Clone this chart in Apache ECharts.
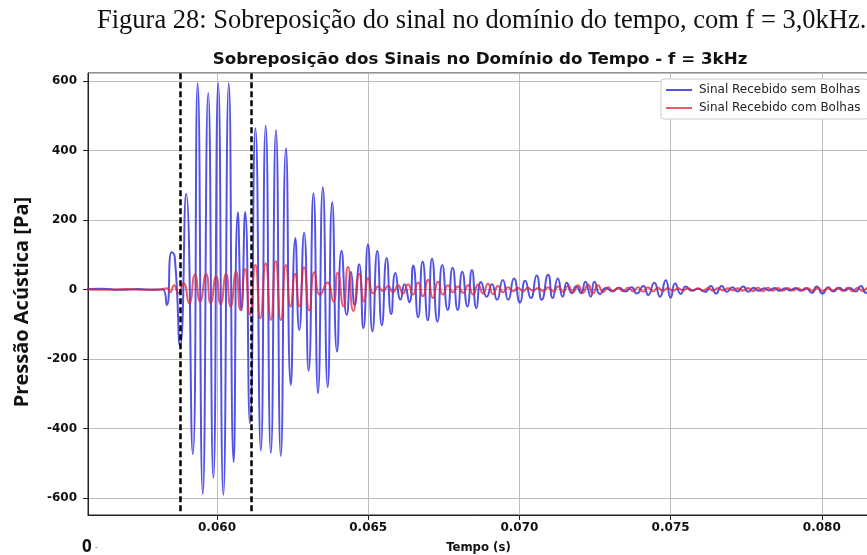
<!DOCTYPE html>
<html>
<head>
<meta charset="utf-8">
<script src="https://cdn.jsdelivr.net/npm/echarts@6/dist/echarts.min.js"></script>
<style>
  html, body { margin: 0; padding: 0; background: #fff; }
  #chart { width: 867px; height: 555px; }
</style>
</head>
<body>
<div id="chart"></div>
<script>
// Sinal recebido sem bolhas: instantes (ms) e pressão (Pa) nos extremos da oscilação
const tempoSemBolhas = [
  55.50, 56.20, 56.80, 57.40, 57.90, 58.21, 58.34, 58.50, 58.60, 58.78,
  58.98, 59.20, 59.36, 59.53, 59.71, 59.88, 60.04, 60.21, 60.39, 60.55,
  60.69, 60.81, 60.93, 61.09, 61.27, 61.45, 61.61, 61.78, 61.95, 62.11,
  62.28, 62.44, 62.59, 62.72, 62.88, 63.03, 63.19, 63.34, 63.50, 63.66,
  63.81, 63.97, 64.12, 64.29, 64.43, 64.55, 64.70, 64.84, 64.99, 65.14,
  65.30, 65.45, 65.61, 65.76, 65.90, 66.07, 66.20, 66.36, 66.49, 66.65,
  66.80, 66.97, 67.11, 67.29, 67.45, 67.63, 67.79, 67.96, 68.11, 68.28,
  68.43, 68.58, 68.73, 68.92, 69.09, 69.26, 69.45, 69.63, 69.82, 70.02,
  70.19, 70.38, 70.57, 70.74, 70.95, 71.10, 71.27, 71.43, 71.57, 71.73,
  71.88, 72.04, 72.18, 72.36, 72.48, 72.67, 72.86, 73.08, 73.29, 73.51,
  73.71, 73.88, 74.10, 74.26, 74.46, 74.65, 74.84, 75.00, 75.15, 75.34,
  75.50, 75.70, 75.91, 76.14, 76.33, 76.50, 76.69, 76.86, 77.05, 77.21,
  77.40, 77.57, 77.74, 77.91, 78.09, 78.25, 78.44, 78.60, 78.78, 78.95,
  79.13, 79.30, 79.48, 79.67, 79.83, 80.02, 80.22, 80.38, 80.58, 80.75,
  80.93, 81.12, 81.29, 81.46, 81.63
];
const pressaoSemBolhas = [
  0, 2, -1, 1, -1, 0, -45, 107, 95, -162,
  275, -474, 593, -589, 565, -543, 593, -591, 593, -497,
  222, -60, 223, -385, 464, -464, 471, -471, 458, -480,
  406, -275, 148, -117, 163, -234, 277, -299, 294, -281,
  251, -179, 111, -73, 50, -45, 72, -112, 130, -121,
  111, -103, 90, -71, 47, -29, 15, -37, 69, -80,
  80, -89, 89, -93, 70, -59, 62, -59, 51, -49,
  56, -54, 21, -21, 15, -30, 27, -30, 31, -38,
  25, -25, 40, -30, 42, -25, 31, -21, 19, -11,
  9, -11, 22, -21, 22, -13, 4, -6, 5, -6,
  6, -12, 10, -16, 19, -21, 26, -24, 17, -13,
  8, -4, 2, -7, 10, -12, 10, -7, 6, -6,
  8, -7, 5, -4, 3, -3, 4, -4, 3, -3,
  4, -4, 4, -10, 8, -12, 6, -6, 5, -4,
  4, -6, 10, -10, 5
];

// Sinal recebido com bolhas: instantes (ms) e pressão (Pa)
const tempoComBolhas = [
  55.50, 56.30, 57.00, 57.60, 58.10, 58.35, 58.45, 58.58, 58.72, 58.89,
  59.08, 59.27, 59.44, 59.64, 59.79, 59.97, 60.12, 60.30, 60.45, 60.63,
  60.77, 60.93, 61.09, 61.27, 61.43, 61.61, 61.78, 61.94, 62.11, 62.28,
  62.43, 62.58, 62.72, 62.88, 63.05, 63.22, 63.41, 63.65, 63.85, 63.99,
  64.18, 64.33, 64.51, 64.70, 64.86, 65.00, 65.17, 65.33, 65.49, 65.66,
  65.82, 65.99, 66.15, 66.32, 66.48, 66.65, 66.81, 66.98, 67.14, 67.31,
  67.47, 67.64, 67.80, 67.97, 68.14, 68.30, 68.47, 68.63, 68.80, 68.96,
  69.13, 69.29, 69.46, 69.62, 69.79, 69.95, 70.12, 70.28, 70.45, 70.62,
  70.78, 70.95, 71.11, 71.28, 71.44, 71.61, 71.77, 71.94, 72.10, 72.27,
  72.43, 72.60, 72.77, 72.93, 73.10, 73.26, 73.43, 73.59, 73.76, 73.92,
  74.09, 74.25, 74.42, 74.58, 74.75, 74.91, 75.08, 75.25, 75.41, 75.58,
  75.74, 75.91, 76.07, 76.24, 76.40, 76.57, 76.73, 76.90, 77.06, 77.23,
  77.39, 77.56, 77.72, 77.89, 78.05, 78.22, 78.38, 78.55, 78.71, 78.88,
  79.04, 79.21, 79.37, 79.54, 79.70, 79.87, 80.03, 80.20, 80.36, 80.53,
  80.69, 80.86, 81.02, 81.19, 81.35, 81.52, 81.68
];
const pressaoComBolhas = [
  0, -1, 1, -1, 0, 3, -8, 12, -11, 18,
  -40, 42, -35, 44, -40, 37, -43, 44, -49, 51,
  -59, 59, -73, 70, -83, 75, -88, 82, -88, 70,
  -49, 45, -49, 64, -61, 49, -16, 20, -35, 48,
  -49, 65, -62, 45, -35, 32, -12, 8, -5, 10,
  -8, 12, -12, 15, -15, 20, -20, 28, -25, 22,
  -15, 12, -8, 8, -10, 12, -15, 14, -12, 16,
  -14, 10, -8, 6, -5, 5, -6, 5, -4, 4,
  -5, 6, -6, 8, -7, 10, -8, 12, -10, 14,
  -12, 12, -8, 6, -5, 4, -5, 5, -6, 6,
  -7, 6, -6, 5, -5, 4, -4, 3, -3, 3,
  -3, 3, -4, 4, -4, 4, -3, 3, -3, 3,
  -4, 4, -5, 5, -5, 5, -4, 4, -4, 4,
  -3, 3, -3, 3, -5, 5, -5, 4, -4, 4,
  -4, 5, -5, 5, -5, 4, -3
];

// Limites da janela (s) marcados com linhas tracejadas
const marcasTempo = [0.05879, 0.06113];

const nomesSeries = ['Sinal Recebido sem Bolhas', 'Sinal Recebido com Bolhas'];

const paraPontos = (t, p) => t.map((ms, i) => [ms / 1000, p[i]]);

const chart = echarts.init(document.getElementById('chart'), null, { renderer: 'canvas' });

const xMin = 0.055734, xMax = 0.081561;
const yMin = -649.2, yMax = 622.7;

chart.setOption({
  animation: false,
  backgroundColor: '#ffffff',
  title: {
    text: 'Sobreposição dos Sinais no Domínio do Tempo - f = 3kHz',
    left: 475, top: 46, textAlign: 'center',
    textStyle: { fontFamily: 'DejaVu Sans', fontWeight: 'bold', fontSize: 16.7, color: '#111' }
  },
  graphic: [
    {
      type: 'text', x: 97, y: 8,
      style: {
        text: 'Figura 28: Sobreposição do sinal no domínio do tempo, com f = 3,0kHz.',
        font: '26.5px "Liberation Serif"', fill: '#111', verticalAlign: 'top'
      }
    },
    {
      type: 'text', x: 22, y: 302, rotation: Math.PI / 2,
      style: {
        text: 'Pressão Acústica [Pa]', align: 'center', verticalAlign: 'middle',
        font: 'bold 20px "Open Sans"', fill: '#111'
      }
    },
    {
      type: 'text', left: 82, top: 539,
      style: { text: '0', font: 'bold 17px "Open Sans"', fill: '#111' }
    },
    {
      type: 'text', left: 95, top: 544,
      style: { text: '-', font: '8px "DejaVu Sans"', fill: '#777' }
    }
  ],
  legend: {
    data: nomesSeries,
    orient: 'vertical',
    left: 661, top: 79,
    padding: [4, 8, 4, 5],
    itemGap: 4,
    itemWidth: 26, itemHeight: 2,
    icon: 'rect',
    backgroundColor: '#ffffff',
    borderColor: '#cccccc', borderWidth: 1, borderRadius: 3,
    textStyle: { fontFamily: 'DejaVu Sans', fontSize: 12, color: '#222', lineHeight: 14, padding: [0, 0, 0, 2] }
  },
  grid: {
    left: 88, top: 73, width: 781, height: 442,
    outerBoundsMode: 'none', containLabel: false,
    show: true, borderColor: '#222', borderWidth: 1, backgroundColor: 'transparent'
  },
  xAxis: {
    type: 'value', min: xMin, max: xMax, splitNumber: 5,
    name: 'Tempo (s)', nameLocation: 'middle', nameGap: 26,
    nameTextStyle: { fontFamily: 'DejaVu Sans Condensed, DejaVu Sans', fontWeight: 'bold', fontSize: 13, color: '#111' },
    axisLine: { show: true, onZero: false, lineStyle: { color: '#222', width: 1 } },
    axisTick: { show: true, length: 5, lineStyle: { color: '#222' } },
    axisLabel: {
      showMinLabel: false, showMaxLabel: false, margin: 7,
      fontFamily: 'DejaVu Sans', fontWeight: 'bold', fontSize: 12, color: '#111',
      formatter: v => v.toFixed(3)
    },
    splitLine: { show: true, lineStyle: { color: '#bdbdbd', width: 1 } }
  },
  yAxis: {
    type: 'value', min: yMin, max: yMax, splitNumber: 6,
    axisLine: { show: true, lineStyle: { color: '#222', width: 1 } },
    axisTick: { show: true, length: 5, lineStyle: { color: '#222' } },
    axisLabel: {
      showMinLabel: false, showMaxLabel: false, margin: 11,
      fontFamily: 'DejaVu Sans', fontWeight: 'bold', fontSize: 12, color: '#111'
    },
    splitLine: { show: true, lineStyle: { color: '#bdbdbd', width: 1 } }
  },
  series: [
    {
      name: nomesSeries[0], type: 'line', showSymbol: false, smooth: 0.6,
      data: paraPontos(tempoSemBolhas, pressaoSemBolhas),
      lineStyle: { color: 'rgba(40,40,220,0.8)', width: 2 },
      itemStyle: { color: 'rgba(40,40,220,0.8)' },
      z: 2
    },
    {
      name: nomesSeries[1], type: 'line', showSymbol: false, smooth: 0.6,
      data: paraPontos(tempoComBolhas, pressaoComBolhas),
      lineStyle: { color: 'rgba(225,35,60,0.75)', width: 2 },
      itemStyle: { color: 'rgba(225,35,60,0.75)' },
      z: 3,
      markLine: {
        silent: true, symbol: 'none', animation: false,
        label: { show: false },
        lineStyle: { color: '#000', type: [6, 3], width: 2.5 },
        data: marcasTempo.map(t => [{ coord: [t, 622] }, { coord: [t, -640] }])
      }
    }
  ]
});
</script>
</body>
</html>
